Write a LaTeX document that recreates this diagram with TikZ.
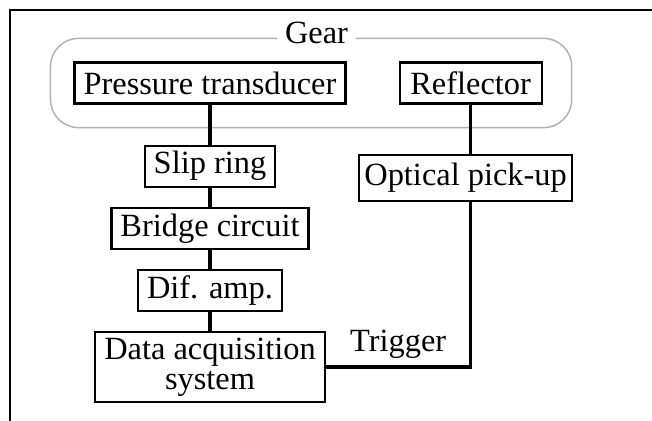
\documentclass[tikz,border=0pt]{standalone}
\usepackage{fontspec}
\setmainfont{Liberation Serif}
\usetikzlibrary{positioning,calc}

\begin{document}
\begin{tikzpicture}[x=0.5pt,y=0.5pt,node distance=9.5pt,
    txt/.style={font=\fontsize{16.2pt}{15pt}\selectfont},
    blk/.style={txt,draw,line width=1.1pt,inner xsep=4.5pt,inner ysep=1pt,minimum height=20.5pt},
    wire/.style={line width=1.8pt},
    gearline/.style={draw=black!30,line width=0.75pt,rounded corners=14pt}]

    \useasboundingbox (0,0) rectangle (652,421);
    \draw[line width=1.3pt] (10,0) -- (10,411) -- (652,411);

    % blocks
    \node[blk] (press) at (210,338) {Pressure transducer};
    \node[blk, minimum width=71pt] (refl) [right=26pt of press] {Reflector};
    \node[blk] (slip) [below=20pt of press] {Slip ring};
    \node[blk] (bridge) [below=of slip] {Bridge circuit};
    \node[blk] (amp) [below=of bridge] {Dif. amp.};
    \node[blk, align=center, minimum width=113pt, minimum height=35pt] (daq) [below=of amp] {Data acquisition\\system};
    \node[blk, inner xsep=2.75pt, minimum height=23pt] (optic) [below=24.5pt of refl, xshift=-2.5pt] {Optical pick-up};

    % gear frame
    \coordinate (gnw) at ($(press.north west)+(-11.5pt,11.5pt)$);
    \coordinate (gse) at ($(refl.south east)+(14.5pt,-11.5pt)$);
    \draw[gearline] (gnw) rectangle (gse);
    \node[txt, fill=white, inner xsep=4pt, inner ysep=1pt, anchor=base] (gear)
        at ($(gnw -| press.east)+(-15pt,-2.5pt)$) {Gear};

    % connectors
    \draw[wire] (press.south) -- (slip.north);
    \draw[wire] (slip.south) -- (bridge.north);
    \draw[wire] (bridge.south) -- (amp.north);
    \draw[wire] (amp.south) -- (daq.north);
    \draw[wire] (refl.south) -- (refl.south |- optic.north);
    \draw[wire] (daq.east) -| node[txt, pos=0.25, above, inner sep=3.5pt] {Trigger} (optic.south -| refl.south);
\end{tikzpicture}
\end{document}
